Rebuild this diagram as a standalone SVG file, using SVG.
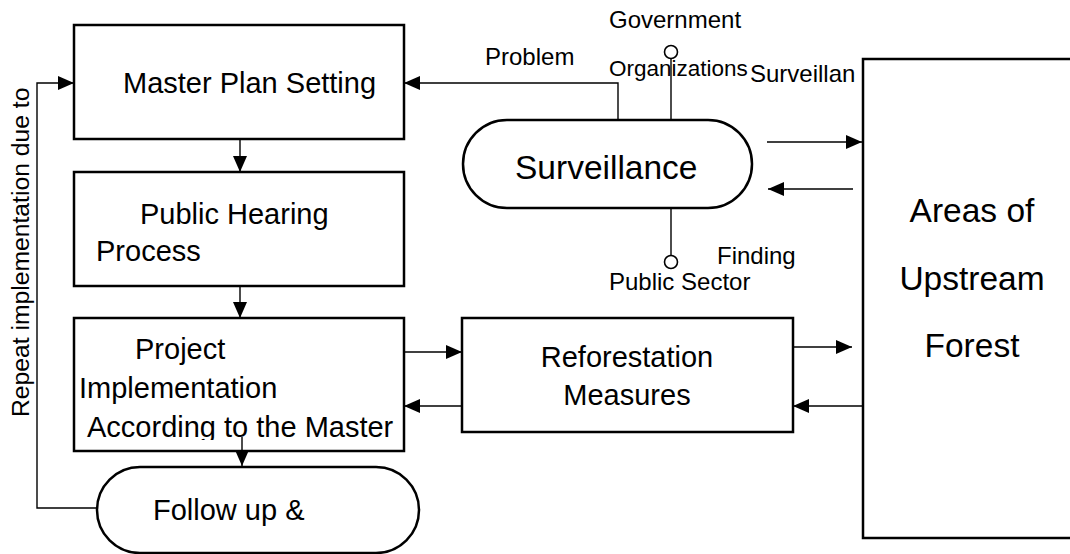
<svg xmlns="http://www.w3.org/2000/svg" width="1070" height="554" viewBox="0 0 1070 554">
<style>
text{font-family:"Liberation Sans",Arial,sans-serif;fill:#000}
.box{fill:#fff;stroke:#000;stroke-width:2.5}
.c{fill:none;stroke:#000;stroke-width:1.4}
.t29{font-size:29px}
.lbl{font-size:24px}
</style>
<defs>
<marker id="ah" markerUnits="userSpaceOnUse" markerWidth="16" markerHeight="14" refX="16" refY="7" orient="auto">
<path d="M0,0 L16,7 L0,14 z" fill="#000"/>
</marker>
<clipPath id="clipPI"><rect x="74" y="300" width="332" height="140"/></clipPath>
</defs>
<rect width="1070" height="554" fill="#fff"/>

<g id="node-master-plan">
<rect class="box" x="74" y="25" width="330" height="114"/>
<text class="t29" x="123" y="93">Master Plan Setting</text>
</g>

<g id="node-public-hearing">
<rect class="box" x="74" y="172" width="330" height="114"/>
<text class="t29" x="140" y="224">Public Hearing</text>
<text class="t29" x="96" y="261">Process</text>
</g>

<g id="node-project">
<rect class="box" x="74" y="318" width="330" height="133"/>
<text class="t29" x="135" y="359">Project</text>
<text class="t29" x="79" y="398">Implementation</text>
<text class="t29" x="87" y="437" clip-path="url(#clipPI)">According to the Master</text>
</g>

<g id="node-follow-up">
<rect class="box" x="97" y="467" width="322" height="86" rx="43" ry="43"/>
<text class="t29" x="153" y="520">Follow up &amp;</text>
</g>

<g id="node-surveillance">
<rect class="box" x="463" y="120" width="289" height="88" rx="44" ry="44"/>
<text x="515" y="179" style="font-size:33.5px">Surveillance</text>
</g>

<g id="node-reforestation">
<rect class="box" x="462" y="318" width="331" height="114"/>
<text class="t29" x="627" y="367" text-anchor="middle">Reforestation</text>
<text class="t29" x="627" y="405" text-anchor="middle">Measures</text>
</g>

<g id="node-areas">
<rect class="box" x="863" y="59" width="230" height="479"/>
<text x="972" y="222" text-anchor="middle" style="font-size:33.5px">Areas of</text>
<text x="972" y="290" text-anchor="middle" style="font-size:33.5px">Upstream</text>
<text x="972" y="357" text-anchor="middle" style="font-size:33.5px">Forest</text>
</g>

<g id="node-government">
<circle cx="671" cy="52" r="6.5" fill="#fff" stroke="#000" stroke-width="1.6"/>
<text class="lbl" x="609" y="28">Government</text>
<text x="609" y="76" style="font-size:22.5px">Organizations</text>
</g>

<g id="node-public-sector">
<circle cx="671" cy="262" r="6.5" fill="#fff" stroke="#000" stroke-width="1.6"/>
<text class="lbl" x="609" y="290">Public Sector</text>
</g>

<g id="connectors">
<line class="c" x1="240" y1="139" x2="240" y2="172" marker-end="url(#ah)"/>
<line class="c" x1="240" y1="286" x2="240" y2="318" marker-end="url(#ah)"/>
<line class="c" x1="242" y1="437" x2="242" y2="466" marker-end="url(#ah)"/>
<polyline class="c" points="97,508 37,508 37,83 74,83" marker-end="url(#ah)"/>
<polyline class="c" points="618,120 618,83 404,83" marker-end="url(#ah)"/>
<line class="c" x1="671" y1="120" x2="671" y2="58.5"/>
<line class="c" x1="671" y1="208" x2="671" y2="255.5"/>
<line class="c" x1="767" y1="142" x2="862" y2="142" marker-end="url(#ah)"/>
<line class="c" x1="853" y1="189" x2="768" y2="189" marker-end="url(#ah)"/>
<line class="c" x1="404" y1="352" x2="462" y2="352" marker-end="url(#ah)"/>
<line class="c" x1="462" y1="406" x2="404" y2="406" marker-end="url(#ah)"/>
<line class="c" x1="793" y1="347" x2="852" y2="347" marker-end="url(#ah)"/>
<line class="c" x1="863" y1="406" x2="793" y2="406" marker-end="url(#ah)"/>
</g>

<g id="labels">
<text class="lbl" x="485" y="65">Problem</text>
<text class="lbl" x="750" y="82">Surveillan</text>
<text class="lbl" x="717" y="264">Finding</text>
<text transform="translate(29,417) rotate(-90)" style="font-size:24.7px">Repeat implementation due to</text>
</g>
</svg>
